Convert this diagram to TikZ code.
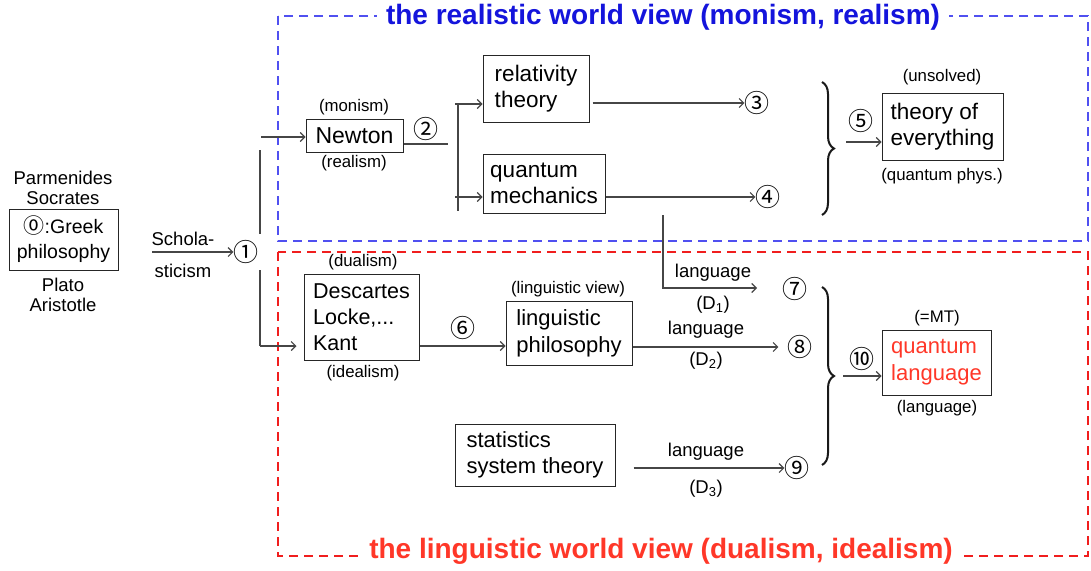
\documentclass[tikz,border=0pt]{standalone}
\usepackage{fontspec}
\setmainfont{Liberation Sans}
\newfontfamily\rkcircfam{Noto Sans CJK JP}
\usetikzlibrary{arrows.meta,decorations.pathreplacing,calc}
\definecolor{lc}{RGB}{70,70,70}
\definecolor{bluebox}{RGB}{80,80,240}
\definecolor{bluetitle}{RGB}{20,20,220}
\definecolor{redbox}{RGB}{240,30,30}
\definecolor{redtitle}{RGB}{255,55,40}
\newcommand\rkbox{\fontsize{22.5}{26}\selectfont}
\newcommand\rkdesc{\fontsize{21.5}{26}\selectfont}
\newcommand\rksmall{\fontsize{16.8}{19}\selectfont}
\newcommand\rkmid{\fontsize{18.5}{20.5}\selectfont}
\newcommand\rktitle{\bfseries\fontsize{28}{30}\selectfont}
\newcommand\rkcirc{\rkcircfam\fontsize{25}{26}\selectfont}
\begin{document}
\begin{tikzpicture}[x=1pt,y=-1pt,
  box/.style={draw=black!85,line width=1pt,inner sep=0pt,align=left,font=\rkbox},
  lbl/.style={inner sep=0pt,font=\rksmall,align=center},
  mlbl/.style={inner sep=0pt,font=\rkmid,align=center},
  circ/.style={inner sep=0pt,font=\rkcirc},
  conn/.style={draw=lc,line width=1.1pt},
  arr/.style={conn,-{Straight Barb[length=4.5pt,width=9pt]}},
  brc/.style={draw=black!90,line width=2pt,decorate,decoration={brace,amplitude=12pt}},
  ]
\useasboundingbox (0,0) rectangle (1091,570);
% dashed frames
\draw[bluebox,line width=1.3pt,dash pattern=on 9pt off 6pt] (278,16) rectangle (1088,241);
\draw[redbox,line width=1.3pt,dash pattern=on 9pt off 6pt] (278,252) rectangle (1088,556);
\node[fill=white,inner xsep=9pt,inner ysep=1pt,text=bluetitle,font=\rktitle] (t1) at (663,17) {the realistic world view (monism, realism)};
\node[fill=white,inner xsep=9pt,inner ysep=1pt,text=redtitle,font=\rktitle] (t2) at (661,551) {the linguistic world view (dualism, idealism)};

% helper y levels
\coordinate (y103) at (0,103);
\coordinate (y197) at (0,197);
\coordinate (y346) at (0,346);
\coordinate (y347) at (0,347);
\coordinate (y468) at (0,468);

% Greek
\node[mlbl] (greekup) at (63,188) {Parmenides\\Socrates};
\node[box,align=center,font=\fontsize{19.5}{25}\selectfont,minimum width=109pt,minimum height=61pt] (greek) at (63.5,239.5) {{\rkcircfam\fontsize{21}{22}\selectfont ⓪}:Greek\\philosophy};
\node[mlbl] (greekdn) at (63,295) {Plato\\Aristotle};

\coordinate (s1) at (152,252);
\node[circ] (c1) at (246,252) {①};
\draw[arr] (s1) -- (c1.west);
\node[mlbl] (schola) at (183,239) {Schola-};
\node[mlbl] (sticism) at (183,271) {sticism};

% trunk
\coordinate (v1a) at (260,150);
\coordinate (v1b) at (260,234);
\coordinate (v2a) at (260,270);
\coordinate (v2b) at (260,346);
\draw[conn] (v1a) -- (v1b);
\draw[conn] (v2a) -- (v2b);

% Newton
\node[box,align=center,font=\fontsize{23}{26}\selectfont,minimum width=97pt,minimum height=33pt] (newton) at (354.5,135.5) {Newton};
\node[lbl] (monism) at (354,107) {(monism)};
\node[lbl] (realism) at (354,163) {(realism)};
\coordinate (a1) at (261,137);
\draw[arr] (a1) -- (newton.west |- a1);
\node[circ] (c2) at (426,129) {②};
\coordinate (n2) at (448,144);
\draw[conn] (newton.east |- n2) -- (n2);

% split
\coordinate (v3a) at (458,104);
\coordinate (v3b) at (458,211);
\draw[conn] (v3a) -- (v3b);
\node[box,minimum width=106pt,minimum height=67pt] (rel) at (536,88.5) {relativity\\theory};
\node[box,minimum width=122pt,minimum height=59pt] (qm) at (544,183.5) {quantum\\mechanics};
\coordinate (a2) at (455,104);
\coordinate (a3) at (455,197);
\draw[arr] (a2) -- (rel.west |- a2);
\draw[arr] (a3) -- (qm.west |- a3);

\node[circ] (c3) at (757,103) {③};
\node[circ] (c4) at (768,197) {④};
\draw[arr] ($(rel.east |- y103)+(3,0)$) -- (c3.west);
\draw[arr] (qm.east |- y197) -- (c4.west);

\draw[brc] (822,82) -- (822,215);
\node[circ] (c5) at (861,121) {⑤};
\node[box,minimum width=121pt,minimum height=67pt] (toe) at (942.5,126.5) {theory of\\everything};
\node[lbl] (unsolved) at (942,77) {(unsolved)};
\node[lbl] (qphys) at (942,176) {(quantum phys.)};
\coordinate (a5) at (846,142);
\draw[arr] (a5) -- (toe.west |- a5);

% linguistic part
\node[box,font=\rkdesc,minimum width=115pt,minimum height=86pt] (desc) at (361.5,317) {Descartes\\Locke,...\\Kant};
\node[lbl] (dualism) at (363,262) {(dualism)};
\node[lbl] (idealism) at (363,373) {(idealism)};
\draw[arr,shorten >=7pt] (v2b) -- (desc.west |- v2b);

\node[box,font=\fontsize{22}{27}\selectfont,minimum width=126pt,minimum height=64pt] (ling) at (569,333) {linguistic\\philosophy};
\node[lbl] (lview) at (568,289) {(linguistic view)};
\node[circ] (c6) at (463,328) {⑥};
\draw[arr] (desc.east |- y346) -- (ling.west |- y346);

% D1
\coordinate (d1a) at (663,215);
\coordinate (d1b) at (663,288);
\coordinate (d1c) at (757,288);
\draw[conn,-{Straight Barb[length=4.5pt,width=9pt]}] (d1a) -- (d1b) -- (d1c);
\node[mlbl] (lang1) at (713,273) {language};
\node[mlbl] (dd1) at (713,305) {(D\textsubscript{1})};
\node[circ] (c7) at (795,289) {⑦};

% D2
\node[circ] (c8) at (800,347) {⑧};
\draw[arr,shorten >=9pt] (ling.east |- y347) -- (c8.west);
\node[mlbl] (lang2) at (706,330) {language};
\node[mlbl] (dd2) at (706,361) {(D\textsubscript{2})};

% D3
\node[box,font=\fontsize{22}{26}\selectfont,minimum width=160pt,minimum height=62pt] (stats) at (535,455) {statistics\\system theory};
\node[circ] (c9) at (797,468) {⑨};
\draw[arr,shorten <=18pt] (stats.east |- y468) -- (c9.west);
\node[mlbl] (lang3) at (706,452) {language};
\node[mlbl] (dd3) at (706,489) {(D\textsubscript{3})};

\draw[brc] (822,287) -- (822,465);
\node[circ] (c10) at (862,359) {⑩};
\node[box,text=redtitle,font=\fontsize{22}{27}\selectfont,minimum width=109pt,minimum height=65pt] (ql) at (936.5,362.5) {quantum\\language};
\node[lbl] (mt) at (937,318) {(=MT)};
\node[lbl] (langq) at (937,408) {(language)};
\coordinate (a10) at (843,376);
\draw[arr] (a10) -- (ql.west |- a10);
\end{tikzpicture}
\end{document}
